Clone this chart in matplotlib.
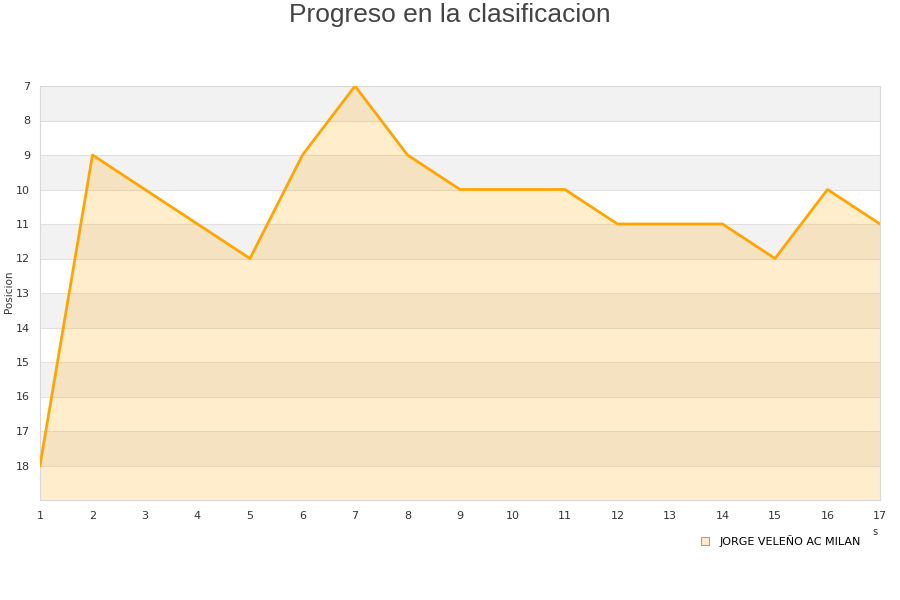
import matplotlib
matplotlib.use('Agg')
import matplotlib.pyplot as plt
from matplotlib.lines import Line2D

# data
jornadas = list(range(1, 18))
posiciones = [18, 9, 10, 11, 12, 9, 7, 9, 10, 10, 10, 11, 11, 11, 12, 10, 11]
equipo = 'JORGE VELEÑO AC MILAN'
titulo = 'Progreso en la clasificacion'
y_ticks = list(range(7, 19))

fig = plt.figure(figsize=(9, 6), dpi=100)
ax = fig.add_axes([40/900, 100/600, 840/900, 414/600])

# alternating background bands
for k in range(7, 19):
    if (k - 7) % 2 == 0:
        ax.axhspan(k, k + 1, color='#f2f2f2', lw=0, zorder=0)
for k in range(8, 19):
    ax.axhline(k, color='#e0e0e0', lw=0.8, zorder=1)

ax.fill_between(jornadas, posiciones, 19, color='#ffa500', alpha=0.2, lw=0, zorder=2)
ax.plot(jornadas, posiciones, color='#ffa500', lw=2, zorder=3)

ax.set_xlim(1, 17)
ax.set_ylim(19, 7)
ax.set_xticks(jornadas)
ax.set_yticks(y_ticks)
ax.tick_params(length=0, labelsize=8, colors='#333333', pad=8)
ax.tick_params(axis='y', pad=7)
for s in ax.spines.values():
    s.set_color('#d9d9d9')

fig.text(9/900, 1 - 292/600, 'Posicion', rotation=90, ha='center', va='center',
         fontsize=7.5, color='#333333')
fig.text(0.5, 1 - 15/600, titulo, ha='center', va='center', fontsize=19,
         family='Liberation Sans', color='#444444')
fig.text(875/900, 1 - 532/600, 's', ha='center', va='center', fontsize=7, color='#333333')

handle = Line2D([], [], marker='s', ls='none', markersize=6,
                markerfacecolor='#ffeecc', markeredgecolor='#b8a070', markeredgewidth=0.8)
fig.legend([handle], [equipo], loc='center left', bbox_to_anchor=(684/900, 1 - 541/600),
           frameon=False, fontsize=8, handletextpad=0.3)

plt.savefig('out.png')
